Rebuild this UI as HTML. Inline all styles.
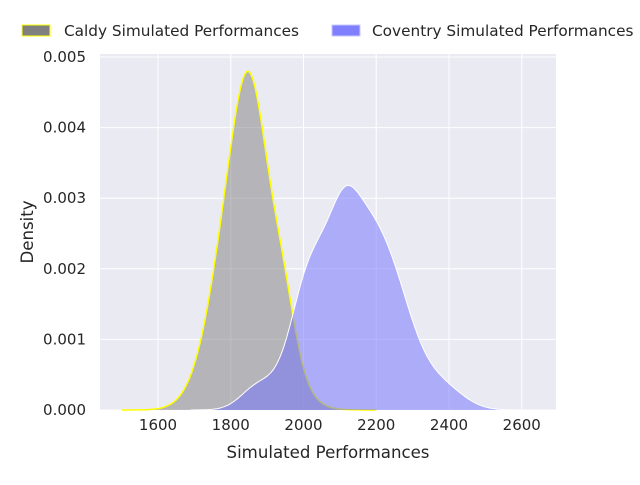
<!DOCTYPE html>
<html><head><style>body{margin:0;background:#fff}svg text{font-family:"DejaVu Sans","Liberation Sans",sans-serif;fill:#262626}</style></head>
<body>
<svg id="s" width="640" height="480" xmlns="http://www.w3.org/2000/svg">
<rect x="100" y="54" width="456" height="356" fill="#eaeaf2"/>
<g id="grid" stroke="#fff" stroke-width="1"></g>
<g id="curves"></g>
<g id="labels" font-size="15"></g>
<text x="328" y="458" font-size="16.6" text-anchor="middle">Simulated Performances</text>
<text transform="translate(33,232) rotate(-90)" font-size="16.6" text-anchor="middle">Density</text>
<rect x="22" y="25" width="28" height="11" fill="#808080" stroke="#ffff00" stroke-width="1"/>
<text x="64" y="36" font-size="15.3">Caldy Simulated Performances</text>
<rect x="332" y="25" width="28" height="11" fill="#8080ff" stroke="#c8c8ff" stroke-width="1"/>
<text x="372" y="36" font-size="15.3">Coventry Simulated Performances</text>
</svg>
<script>
var X=function(v){return 158+(v-1600)*72.75/200;}, Y=function(v){return 410-v*70.6/0.001;};
var ns="http://www.w3.org/2000/svg";
function el(p,t,a,txt){var e=document.createElementNS(ns,t);for(var k in a)e.setAttribute(k,a[k]);if(txt)e.textContent=txt;document.getElementById(p).appendChild(e);}
for(var v=1600;v<=2600;v+=200){el("grid","line",{x1:X(v),x2:X(v),y1:54,y2:410});el("labels","text",{x:X(v),y:430,"text-anchor":"middle"},String(v));}
for(var i=0;i<=5;i++){var w=i*0.001;el("grid","line",{x1:100,x2:556,y1:Y(w),y2:Y(w)});el("labels","text",{x:86,y:Y(w)+5,"text-anchor":"end"},w.toFixed(3));}
function g(x,m,s,a){var z=(x-m)/s;return a*Math.exp(-z*z/2);}
function fc(x){return g(x,1845,75,0.0042)+g(x,1850,35,0.0006)+g(x,1950,30,0.0004);}
function fv(x){return g(x,2120,100,0.0029)+g(x,2000,40,0.0005)+g(x,2250,60,0.0008)+g(x,1870,45,0.00025)+g(x,2380,60,0.0003)+g(x,2115,30,0.0002);}
function path(f,a,b){var d="M"+X(a)+","+Y(0);for(var x=a;x<=b;x+=4)d+=" L"+X(x).toFixed(1)+","+Y(f(x)).toFixed(1);return d+" L"+X(b)+","+Y(0)+"Z";}
function line(f,a,b){var d="";for(var x=a;x<=b;x+=4)d+=(d?" L":"M")+X(x).toFixed(1)+","+Y(f(x)).toFixed(1);return d;}
el("curves","path",{d:path(fc,1500,2200),fill:"rgba(128,128,128,0.5)"});
el("curves","path",{d:line(fc,1500,2200),fill:"none",stroke:"#ffff00","stroke-width":1.5});
el("curves","path",{d:path(fv,1690,2640),fill:"rgba(110,110,255,0.5)"});
el("curves","path",{d:line(fv,1690,2640),fill:"none",stroke:"#fff","stroke-width":1});
</script>
</body></html>
